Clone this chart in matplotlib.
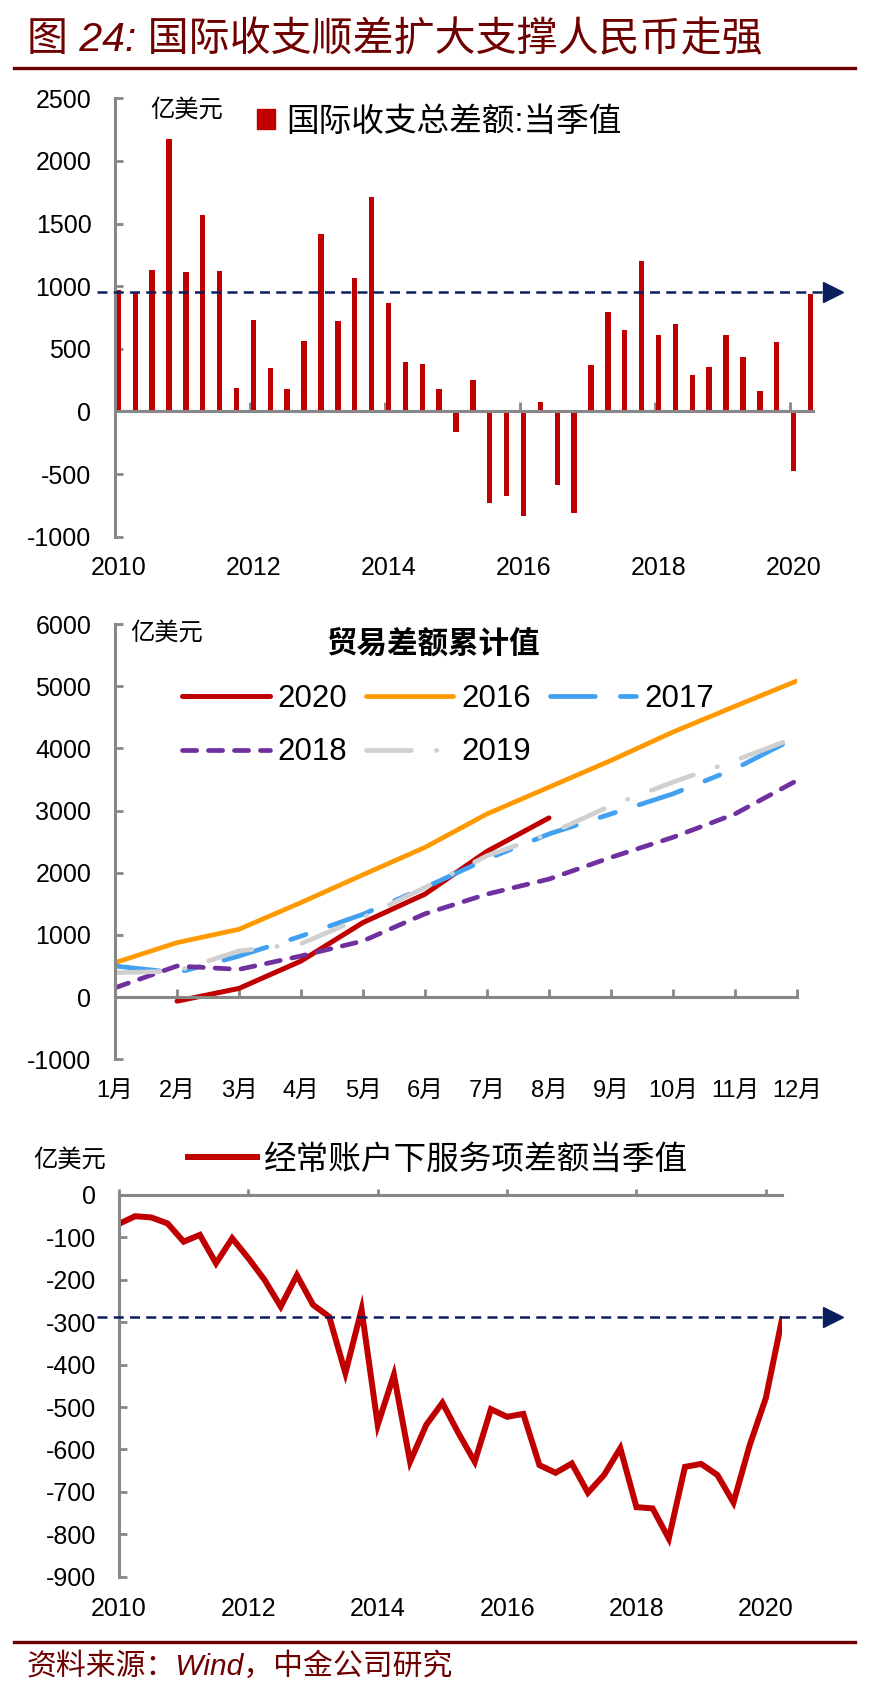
import numpy as np
import matplotlib
matplotlib.use('Agg')
import matplotlib.pyplot as plt
from matplotlib.lines import Line2D
from matplotlib.patches import Patch

plt.rcParams['font.family'] = ['Liberation Sans', 'Noto Sans CJK SC']
plt.rcParams['axes.unicode_minus'] = False

# ---- data ----
# 国际收支总差额: 当季值 (2010Q1 - 2020Q2), 亿美元
bop_balance = [970, 950, 1130, 2177, 1111, 1572, 1122, 187, 728, 349,
               179, 560, 1418, 720, 1069, 1716, 869, 397, 381, 176,
               -165, 253, -733, -672, -832, 75, -584, -813, 370, 797,
               653, 1199, 613, 701, 290, 352, 608, 437, 160, 554,
               -477, 938]
bop_ref = 951

# 贸易差额累计值, 亿美元
months = ['1月', '2月', '3月', '4月', '5月', '6月', '7月', '8月', '9月', '10月', '11月', '12月']
trade_2020 = [np.nan, -65, 140, 580, 1199, 1656, 2344, 2882]
trade_2016 = [554, 876, 1091, 1521, 1968, 2408, 2946, 3376, 3806, 4263, 4677, 5086]
trade_2017 = [500, 392, 660, 980, 1333, 1763, 2220, 2623, 2946, 3269, 3672, 4183]
trade_2018 = [150, 500, 446, 661, 903, 1340, 1656, 1898, 2247, 2570, 2946, 3484]
trade_2019 = [392, 419, 742, 860, 1280, 1763, 2274, 2623, 3080, 3457, 3806, 4183]

# 经常账户下服务项差额当季值 (2010Q1 - 2020Q2), 亿美元
services = [-68, -50, -53, -67, -110, -94, -161, -102, -149, -200,
            -263, -189, -259, -287, -420, -270, -542, -424, -629, -542,
            -490, -562, -629, -505, -523, -516, -637, -655, -633, -702,
            -660, -597, -736, -739, -810, -641, -634, -660, -725, -590,
            -479, -293]
serv_ref = -288

years = ['2010', '2012', '2014', '2016', '2018', '2020']

RED = '#C00000'
ORANGE = '#FF9900'
BLUE = '#42A0F0'
PURPLE = '#7030A0'
LGRAY = '#D0D0D0'
NAVY = '#0B1F5E'
GRAY = '#878787'
DARKRED = '#6E0000'

W, H = 876, 1698
fig = plt.figure(figsize=(W / 100, H / 100), dpi=100)


def add_ax(left, top, right, bottom):
    return fig.add_axes([left / W, 1 - bottom / H, (right - left) / W, (bottom - top) / H])


def fx(x):
    return x / W


def fy(y):
    return 1 - y / H


def style_axis(ax):
    for s in ['top', 'right', 'bottom', 'left']:
        ax.spines[s].set_color(GRAY)
        ax.spines[s].set_linewidth(2.2)
    ax.spines['top'].set_visible(False)
    ax.spines['right'].set_visible(False)


# title
fig.text(fx(27), fy(40), '图 24: 国际收支顺差扩大支撑人民币走强', fontsize=29.5,
         color=DARKRED, style='italic', va='center', ha='left')
fig.add_artist(Line2D([fx(14), fx(855)], [fy(68), fy(68)], color=DARKRED, lw=2.4))

# ---- chart 1: bars ----
ax1 = add_ax(115, 98.3, 813, 536.7)
style_axis(ax1)
xq = np.arange(len(bop_balance))
ax1.bar(xq, bop_balance, width=0.32, color=RED, zorder=2)
ax1.set_xlim(-0.15, 41.15)
ax1.set_ylim(-1000, 2500)
ax1.set_yticks(np.arange(-1000, 2501, 500))
ax1.spines['bottom'].set_position(('data', 0))
year_pos = np.arange(0, 41, 8)
ax1.set_xticks(year_pos - 0.2)
ax1.tick_params(axis='x', direction='in', length=6.5, width=2, color=GRAY, labelbottom=False)
ax1.tick_params(axis='y', direction='in', length=6, width=2, color=GRAY, pad=17, labelsize=18)
sec1 = ax1.secondary_xaxis('bottom')
sec1.set_xticks(year_pos, years)
sec1.tick_params(length=0, pad=14, labelsize=18)
sec1.spines['bottom'].set_visible(False)

ytr1 = ax1.get_yaxis_transform()
ax1.plot([-0.026, 1.014], [bop_ref, bop_ref], transform=ytr1, color=NAVY, lw=1.8,
         dashes=(4, 2.5), clip_on=False, zorder=4)
ax1.plot([1.029], [bop_ref], transform=ytr1, marker='>', ms=14, color=NAVY,
         clip_on=False, zorder=4)
ax1.legend([Patch(color=RED)], ['国际收支总差额:当季值'], loc='center left',
           bbox_to_anchor=(fx(257), fy(122)), bbox_transform=fig.transFigure,
           frameon=False, fontsize=23.5, handlelength=0.55, handleheight=0.55,
           handletextpad=0.35, borderpad=0, borderaxespad=0)
fig.text(fx(187), fy(110), '亿美元', fontsize=17.5, ha='center', va='center')

# ---- chart 2: cumulative trade balance ----
ax2 = add_ax(115, 624, 797, 1059.3)
style_axis(ax2)
xm = np.arange(len(months))
l20, = ax2.plot(xm[:len(trade_2020)], trade_2020, color=RED, lw=3.6, solid_capstyle='round')
l16, = ax2.plot(xm, trade_2016, color=ORANGE, lw=3.4, solid_capstyle='round')
l17, = ax2.plot(xm, trade_2017, color=BLUE, lw=3.4, dashes=(9.5, 5.3, 3.4, 5.3),
                dash_capstyle='round')
l18, = ax2.plot(xm, trade_2018, color=PURPLE, lw=3.4, dashes=(3.0, 2.5),
                dash_capstyle='round')
l19, = ax2.plot(xm, trade_2019, color=LGRAY, lw=3.4, dashes=(9.5, 5.3, 0.1, 5.3),
                dash_capstyle='round')
ax2.set_xlim(0, 11)
ax2.set_ylim(-1000, 6000)
ax2.set_yticks(np.arange(-1000, 6001, 1000))
ax2.spines['bottom'].set_position(('data', 0))
ax2.set_xticks(xm)
ax2.tick_params(axis='x', direction='in', length=6, width=2, color=GRAY, labelbottom=False)
ax2.tick_params(axis='y', direction='in', length=6, width=2, color=GRAY, pad=17, labelsize=18)
sec2 = ax2.secondary_xaxis('bottom')
sec2.set_xticks(xm, months)
sec2.tick_params(length=0, pad=15, labelsize=17)
sec2.spines['bottom'].set_visible(False)

ax2.legend([l20, l18, l16, l19, l17], ['2020', '2018', '2016', '2019', '2017'],
           ncol=3, loc='upper left', bbox_to_anchor=(fx(182), fy(684)),
           bbox_transform=fig.transFigure, frameon=False, fontsize=22.5,
           handlelength=2.8, handletextpad=0.25, columnspacing=0.6,
           labelspacing=0.75, borderpad=0, borderaxespad=0)
fig.text(fx(433), fy(645), '贸易差额累计值', fontsize=22, fontweight='bold',
         ha='center', va='center')
fig.text(fx(167), fy(633), '亿美元', fontsize=17.5, ha='center', va='center')

# ---- chart 3: services balance ----
ax3 = add_ax(119, 1195, 782, 1576.7)
style_axis(ax3)
ax3.spines['top'].set_visible(True)
ax3.spines['bottom'].set_visible(False)
xs = np.arange(len(services))
l_s, = ax3.plot(xs, services, color=RED, lw=4.3, solid_joinstyle='miter')
ax3.set_xlim(0, 41)
ax3.set_ylim(-900, 0)
ax3.set_yticks(np.arange(-900, 1, 100))
ax3.set_xticks(year_pos, years)
ax3.tick_params(axis='x', top=True, bottom=False, labeltop=False, labelbottom=True,
                direction='out', length=4.3, width=2, color=GRAY, pad=10.5, labelsize=18)
ax3.tick_params(axis='y', direction='in', length=6, width=2, color=GRAY, pad=16.5, labelsize=18)

ytr3 = ax3.get_yaxis_transform()
ax3.plot([-0.033, 1.063], [serv_ref, serv_ref], transform=ytr3, color=NAVY, lw=1.8,
         dashes=(4, 2.5), clip_on=False, zorder=4)
ax3.plot([1.077], [serv_ref], transform=ytr3, marker='>', ms=14, color=NAVY,
         clip_on=False, zorder=4)
ax3.legend([l_s], ['经常账户下服务项差额当季值'], loc='center left',
           bbox_to_anchor=(fx(188), fy(1160)), bbox_transform=fig.transFigure,
           frameon=False, fontsize=23.5, handlelength=2.1, handletextpad=0.22,
           borderpad=0, borderaxespad=0)
fig.text(fx(70), fy(1160), '亿美元', fontsize=17.5, ha='center', va='center')

# source
fig.add_artist(Line2D([fx(14), fx(855)], [fy(1642), fy(1642)], color=DARKRED, lw=2.4))
fig.text(fx(27), fy(1667), '资料来源：Wind，中金公司研究', fontsize=21.5, color=DARKRED,
         style='italic', va='center', ha='left')

fig.savefig('out.png', dpi=100)
